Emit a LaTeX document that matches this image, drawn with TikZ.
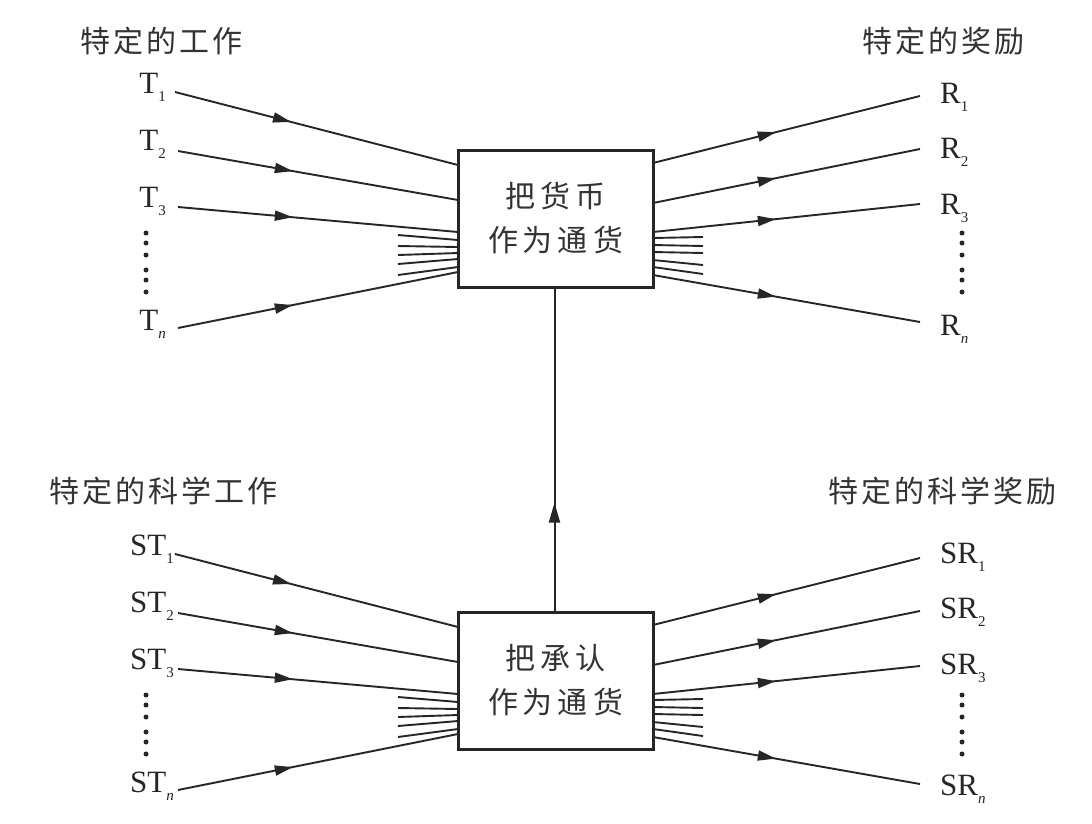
\documentclass[tikz,border=0pt]{standalone}
\usepackage{fontspec}
\setmainfont{Liberation Serif}
\newfontfamily\cjk{Noto Sans CJK SC}
\usetikzlibrary{arrows.meta,decorations.markings}
\newcommand\sbs[1]{\raisebox{-8pt}{\fontsize{15}{15}\selectfont #1}}
\newcommand\hsp{\hspace{3pt}}
\newcommand\bsp{\hspace{5pt}}
\tikzset{
  ln/.style={line width=1.9pt, draw=black!85},
  inarrow/.style={ln, postaction={decorate}, decoration={markings,
      mark=at position 0.41 with {\arrow[black!85]{Triangle[length=18pt,width=10pt]}}}},
  outarrow/.style={ln, postaction={decorate}, decoration={markings,
      mark=at position 0.46 with {\arrow[black!85]{Triangle[length=18pt,width=10pt]}}}},
  uparrow/.style={ln, line width=2pt, postaction={decorate}, decoration={markings,
      mark=at position 0.335 with {\arrow[black!85]{Triangle[length=20pt,width=11pt]}}}},
  box/.style={draw=black!85, line width=3pt, minimum width=195pt, minimum height=137pt,
      inner sep=0pt, font=\cjk\fontsize{30}{44}\selectfont, text=black!80, align=center},
  lab/.style={inner sep=0pt, font=\fontsize{31}{31}\selectfont, text=black!85},
  head/.style={inner sep=0pt, font=\cjk\fontsize{30}{30}\selectfont, text=black!80},
  dotm/.style={fill=black!85, draw=none}
}
\newcommand\halfpart[2]{%
  \node[box] (#1box) at (555.5,218.5) {#2};
  \foreach \i/\sx/\sy/\ey in {1/175/92/165, 2/178/151/200, 3/178/207/232, n/178/328/272}{
    \coordinate (#1ls\i) at (\sx,\sy);
    \coordinate (#1le\i) at (458,\ey);
    \draw[inarrow] (#1ls\i) -- (#1le\i);
  }
  \foreach \i/\sy/\ey in {1/163/96, 2/203/149, 3/232/204, n/275/322}{
    \coordinate (#1rs\i) at (653,\sy);
    \coordinate (#1re\i) at (920,\ey);
    \draw[outarrow] (#1rs\i) -- (#1re\i);
  }
  \foreach \k/\sy/\ey in {1/235/240, 2/246/247, 3/255/253, 4/264/259, 5/275/267}{
    \coordinate (#1fls\k) at (398,\sy);
    \coordinate (#1fle\k) at (458,\ey);
    \draw[ln] (#1fls\k) -- (#1fle\k);
  }
  \foreach \k/\sy/\ey in {1/238/237, 2/245/246, 3/252/253, 4/260/265, 5/267/274}{
    \coordinate (#1frs\k) at (653,\sy);
    \coordinate (#1fre\k) at (703,\ey);
    \draw[ln] (#1frs\k) -- (#1fre\k);
  }
  \foreach \y in {233,243,255,270,280,292}{
    \fill[dotm] (146,\y) circle (2.5pt);
    \fill[dotm] (962,\y) circle (2.5pt);
  }
}
\begin{document}
\begin{tikzpicture}[x=1pt, y={(0pt,-1pt)}]
  \useasboundingbox[fill=white] (0,0) rectangle (1092,823);
  % top half
  \halfpart{top}{把\bsp 货\bsp 币\\作\bsp 为\bsp 通\bsp 货}
  \node[head] (h1) at (161,41) {特\hsp 定\hsp 的\hsp 工\hsp 作};
  \node[head] (h2) at (943,41) {特\hsp 定\hsp 的\hsp 奖\hsp 励};
  \node[lab, anchor=base east] (T1) at (166,93) {T\sbs{1}};
  \node[lab, anchor=base east] (T2) at (166,150) {T\sbs{2}};
  \node[lab, anchor=base east] (T3) at (166,207) {T\sbs{3}};
  \node[lab, anchor=base east] (Tn) at (166,330) {T\sbs{\textit{n}}};
  \node[lab, anchor=base west] (R1) at (940,103) {R\sbs{1}};
  \node[lab, anchor=base west] (R2) at (940,158) {R\sbs{2}};
  \node[lab, anchor=base west] (R3) at (940,214) {R\sbs{3}};
  \node[lab, anchor=base west] (Rn) at (940,335) {R\sbs{\textit{n}}};
  % bottom half
  \begin{scope}[yshift=-462pt]
    \halfpart{bot}{把\bsp 承\bsp 认\\作\bsp 为\bsp 通\bsp 货}
    \node[lab, anchor=base east] (ST1) at (174,93) {ST\sbs{1}};
    \node[lab, anchor=base east] (ST2) at (174,150) {ST\sbs{2}};
    \node[lab, anchor=base east] (ST3) at (174,207) {ST\sbs{3}};
    \node[lab, anchor=base east] (STn) at (174,330) {ST\sbs{\textit{n}}};
    \node[lab, anchor=base west] (SR1) at (940,101) {SR\sbs{1}};
    \node[lab, anchor=base west] (SR2) at (940,156) {SR\sbs{2}};
    \node[lab, anchor=base west] (SR3) at (940,212) {SR\sbs{3}};
    \node[lab, anchor=base west] (SRn) at (940,333) {SR\sbs{\textit{n}}};
  \end{scope}
  \node[head] (h3) at (163,491) {特\hsp 定\hsp 的\hsp 科\hsp 学\hsp 工\hsp 作};
  \node[head] (h4) at (942,491) {特\hsp 定\hsp 的\hsp 科\hsp 学\hsp 奖\hsp 励};
  \draw[uparrow] ([xshift=-1pt]botbox.north) -- ([xshift=-1pt]topbox.south);
\end{tikzpicture}
\end{document}
